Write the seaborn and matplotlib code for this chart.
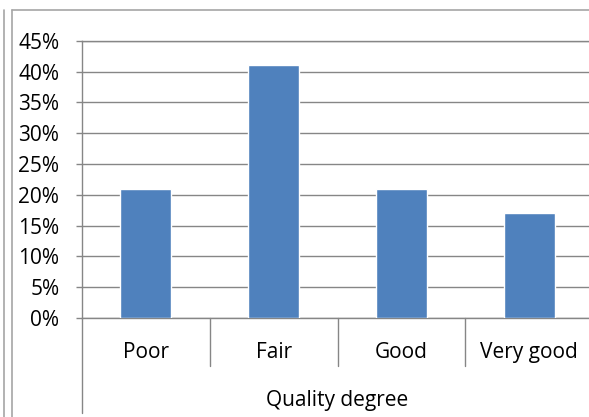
import numpy as np
import pandas as pd
import matplotlib
matplotlib.use("Agg")
import matplotlib.pyplot as plt
import matplotlib.transforms as mtransforms
from matplotlib.lines import Line2D
from matplotlib.ticker import PercentFormatter, MultipleLocator
import seaborn as sns

categories = ["Poor", "Fair", "Good", "Very good"]
values = [0.21, 0.41, 0.21, 0.17]
x_label = "Quality degree"

sns.set_style("white")
plt.rcParams['font.family'] = ['Open Sans', 'DejaVu Sans']

W, H = 589, 417
fig = plt.figure(figsize=(W / 100, H / 100), dpi=100)
ax = fig.add_axes([82 / W, (H - 318) / H, 511 / W, 277.3 / H])

df = pd.DataFrame({"cat": categories, "val": values})
sns.barplot(data=df, x="cat", y="val", order=categories, color="#4F81BD",
            saturation=1, width=0.4, ax=ax, zorder=3)

grey = "#868686"
ax.set_ylim(0, 0.45)
ax.set_xlim(-0.5, len(categories) - 0.5)
ax.yaxis.set_major_locator(MultipleLocator(0.05))
ax.yaxis.set_major_formatter(PercentFormatter(1.0, decimals=0))
ax.yaxis.grid(True, color=grey, lw=1.0, zorder=0)
ax.set_axisbelow(True)

for s in ["top", "left", "bottom"]:
    ax.spines[s].set_visible(True)
    ax.spines[s].set_color(grey)
    ax.spines[s].set_linewidth(1.0)
ax.spines["right"].set_visible(False)

ax.tick_params(axis="y", direction="out", length=4.3, width=1.0, color=grey,
               labelsize=15, pad=12, labelcolor="black", left=True)
ax.tick_params(axis="x", length=0, labelsize=15, pad=17, labelcolor="black")
ax.set_ylabel("")
ax.set_xlabel(x_label, fontsize=15, labelpad=20, color="black")

# category separators below the axis
trans = mtransforms.blended_transform_factory(ax.transData, ax.transAxes)
bounds = np.arange(len(categories) + 1) - 0.5
for i, b in enumerate(bounds):
    low = -0.343 if i == 0 else -0.173
    ax.add_line(Line2D([b, b], [0, low], transform=trans, color=grey,
                       lw=1.0, clip_on=False))

# chart frame
fc = "#a6a6a6"
fig.add_artist(Line2D([11.5 / W, 11.5 / W], [0, 1 - 9.5 / H], transform=fig.transFigure, color=fc, lw=1.2))
fig.add_artist(Line2D([3.5 / W, 3.5 / W], [0, 1 - 9.5 / H], transform=fig.transFigure, color=fc, lw=1.2))
fig.add_artist(Line2D([11.5 / W, 1], [1 - 9.5 / H, 1 - 9.5 / H], transform=fig.transFigure, color=fc, lw=1.2))

fig.savefig("out.png", dpi=100)
